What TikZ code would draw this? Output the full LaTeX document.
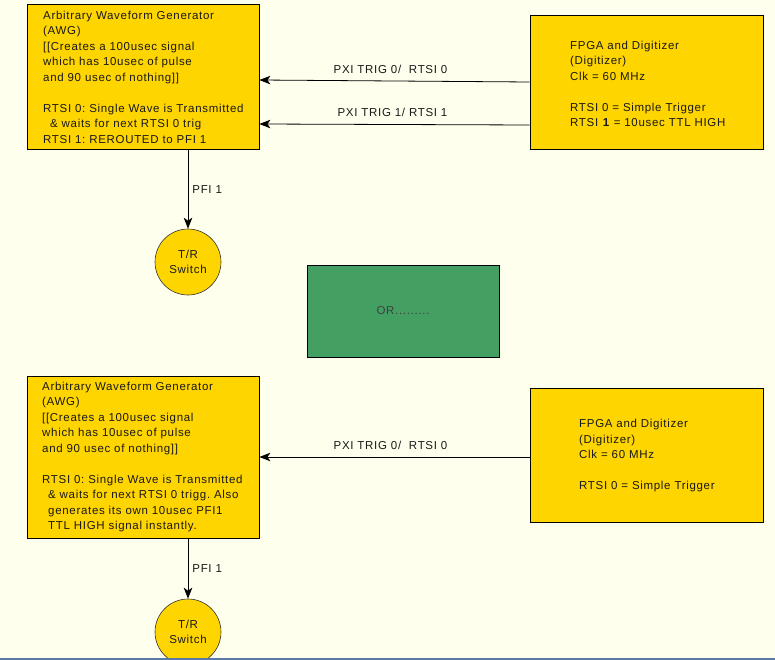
\documentclass[tikz,border=0pt]{standalone}
\usepackage{fontspec}
\setmainfont{Liberation Sans}[LetterSpace=6]
\usetikzlibrary{arrows.meta}
\definecolor{bg}{HTML}{FFFFEE}
\definecolor{gold}{HTML}{FFD500}
\definecolor{leaf}{HTML}{44A062}
\definecolor{edgeblue}{HTML}{5A78A8}
\frenchspacing
\begin{document}
\begin{tikzpicture}[x=1pt,y=-1pt,
  every node/.style={font=\fontsize{11.5}{15.5}\selectfont, text=black!90},
  box/.style={draw=black, line width=0.8pt, fill=gold, rectangle, inner sep=0pt},
  txt/.style={align=left, inner sep=0pt, anchor=west},
  sw/.style={circle, draw=black!80, line width=0.6pt, fill=gold, minimum size=66pt, inner sep=0pt, align=center},
  arr/.style={draw=black, line width=0.8pt, -{Stealth[length=11pt,width=8.5pt,inset=3pt]}},
  lbl/.style={inner sep=0pt}
]
\useasboundingbox (0,0) rectangle (775,660);
\clip (0,0) rectangle (775,660);
\fill[bg] (0,0) rectangle (775,660);

% ---------- top part ----------
\node[box, minimum width=232pt, minimum height=145pt] (awg1) at (143,76.5) {};
\node[txt] (awg1t) at (43,77) {Arbitrary Waveform Generator\\(AWG)\\{}[[Creates a 100usec signal\\which has 10usec of pulse\\and 90 usec of nothing]]\\[15.5pt]RTSI 0: Single Wave is Transmitted\\\hspace*{7pt}\& waits for next RTSI 0 trig\\RTSI 1: REROUTED to PFI 1};

\node[box, minimum width=233pt, minimum height=134pt] (fpga1) at (646.5,82) {};
\node[txt] (fpga1t) at (570,84) {FPGA and Digitizer\\(Digitizer)\\Clk = 60 MHz\\[15.5pt]RTSI 0 = Simple Trigger\\RTSI \textbf{1} = 10usec TTL HIGH};

\draw[arr] (fpga1.west |- 0,82) -- (awg1.east |- 0,80) node[lbl, midway, above=7pt, xshift=-4pt] (l1) {PXI TRIG 0/\ \ RTSI 0};
\draw[arr] (fpga1.west |- 0,125) -- (awg1.east |- 0,124) node[lbl, midway, above=7pt, xshift=-2pt] (l2) {PXI TRIG 1/ RTSI 1};

\node[sw] (sw1) at (188,262) {T/R\\Switch};
\draw[arr] (sw1.north |- awg1.south) -- (sw1.north) node[lbl, midway, right=4pt] (p1) {PFI 1};

% ---------- OR box ----------
\node[draw=black, line width=0.8pt, fill=leaf, minimum width=192pt, minimum height=92pt, inner sep=0pt, text=black!75] (or) at (403,311) {OR.........};

% ---------- bottom part ----------
\node[box, minimum width=232pt, minimum height=162pt] (awg2) at (143,457) {};
\node[txt] (awg2t) at (42,457) {Arbitrary Waveform Generator\\(AWG)\\{}[[Creates a 100usec signal\\which has 10usec of pulse\\and 90 usec of nothing]]\\[15.5pt]RTSI 0: Single Wave is Transmitted\\\hspace*{6pt}\& waits for next RTSI 0 trigg. Also\\\hspace*{6pt}generates its own 10usec PFI1\\\hspace*{6pt}TTL HIGH signal instantly.};

\node[box, minimum width=233pt, minimum height=134pt] (fpga2) at (646.5,455.5) {};
\node[txt] (fpga2t) at (579,456) {FPGA and Digitizer\\(Digitizer)\\Clk = 60 MHz\\[15.5pt]RTSI 0 = Simple Trigger};

\draw[arr] (fpga2.west |- 0,457) -- (awg2.east |- 0,457) node[lbl, midway, above=7pt, xshift=-4pt] (l3) {PXI TRIG 0/\ \ RTSI 0};

\node[sw] (sw2) at (188,632) {T/R\\Switch};
\draw[arr] (sw2.north |- awg2.south) -- (sw2.north) node[lbl, midway, right=4pt] (p2) {PFI 1};

\draw[edgeblue, line width=2pt] (0,659) -- (775,659);
\end{tikzpicture}
\end{document}
